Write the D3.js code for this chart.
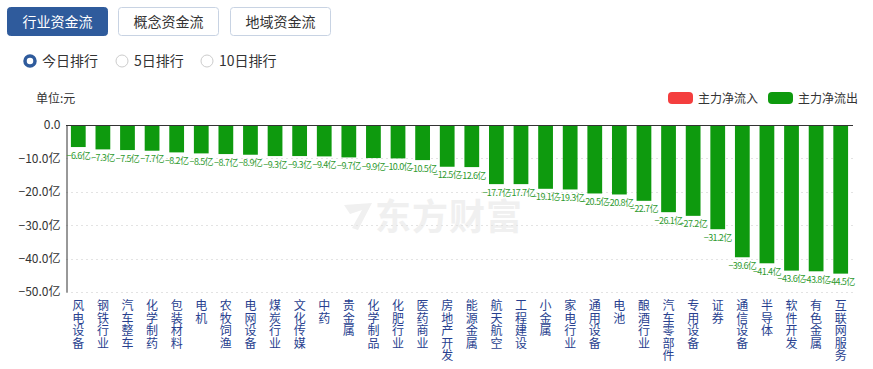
<!DOCTYPE html>
<html><head><meta charset="utf-8">
<script src="https://cdn.jsdelivr.net/npm/d3@7/dist/d3.min.js"></script>
<style>
body{margin:0;background:#fff;}
svg{display:block;font-family:"Noto Sans CJK SC","Noto Sans",sans-serif;}
</style></head><body>
<svg id="c" width="873" height="369"></svg>
<script>
const categories = ["风电设备","钢铁行业","汽车整车","化学制药","包装材料","电机","农牧饲渔","电网设备","煤炭行业","文化传媒","中药","贵金属","化学制品","化肥行业","医药商业","房地产开发","能源金属","航天航空","工程建设","小金属","家电行业","通用设备","电池","酿酒行业","汽车零部件","专用设备","证券","通信设备","半导体","软件开发","有色金属","互联网服务"];
const values = [-6.6,-7.3,-7.5,-7.7,-8.2,-8.5,-8.7,-8.9,-9.3,-9.3,-9.4,-9.7,-9.9,-10.0,-10.5,-12.5,-12.6,-17.7,-17.7,-19.1,-19.3,-20.5,-20.8,-22.7,-26.1,-27.2,-31.2,-39.6,-41.4,-43.6,-43.8,-44.5];
const yTicks = [0,-10,-20,-30,-40,-50];
const tabs = ["行业资金流","概念资金流","地域资金流"];
const radios = ["今日排行","5日排行","10日排行"];
const legendItems = ["主力净流入","主力净流出"];

const svg = d3.select("#c");
const L = 66, R = 853, T = 125, B = 292;
const x = d3.scaleBand().domain(categories).range([L, R]).paddingInner(0.4).paddingOuter(0.2);
const y = d3.scaleLinear().domain([0, -50]).range([T, B]);

// tabs
const tabX = [7, 118, 230];
tabs.forEach((t, i) => {
  const g = svg.append("g");
  g.append("rect").attr("x", tabX[i] + 0.5).attr("y", 7.5).attr("width", 100).attr("height", 28).attr("rx", 3)
    .attr("fill", i === 0 ? "#2f5b9c" : "#fff").attr("stroke", i === 0 ? "#2f5b9c" : "#c8d3e3");
  g.append("text").attr("x", tabX[i] + 50.5).attr("y", 26.5).attr("text-anchor", "middle")
    .attr("font-size", 14).attr("fill", i === 0 ? "#fff" : "#333").text(t);
});

// radios
const radioX = [30, 122, 207];
radios.forEach((r, i) => {
  if (i === 0) {
    svg.append("circle").attr("cx", radioX[i]).attr("cy", 61).attr("r", 5).attr("fill", "#fff").attr("stroke", "#2f5b9c").attr("stroke-width", 3.5);
  } else {
    svg.append("circle").attr("cx", radioX[i]).attr("cy", 61).attr("r", 6).attr("fill", "#fff").attr("stroke", "#ccc").attr("stroke-width", 1);
  }
  svg.append("text").attr("x", radioX[i] + 12).attr("y", 66).attr("font-size", 14).attr("fill", "#333").text(r);
});

// unit
svg.append("text").attr("x", 36).attr("y", 103).attr("font-size", 12).attr("fill", "#333").text("单位:元");

// legend
const legX = [668, 768];
const legC = ["#f43e3e", "#0e9a0e"];
legendItems.forEach((t, i) => {
  svg.append("rect").attr("x", legX[i]).attr("y", 92).attr("width", 25).attr("height", 12).attr("rx", 4).attr("fill", legC[i]);
  svg.append("text").attr("x", legX[i] + 30).attr("y", 102.5).attr("font-size", 12).attr("fill", "#333").text(t);
});

// watermark
const wm = svg.append("g").attr("fill", "#f0f0f0");
wm.append("path").attr("d", "M344,205 L372,203 L358,230 L352,228 L362,210 L350,214 Z");
wm.append("text").attr("x", 375).attr("y", 230).attr("font-size", 36).attr("font-weight", "bold").attr("letter-spacing", 1).text("东方财富");

// grid
svg.append("g").selectAll("line").data(yTicks.filter(d => d !== 0)).join("line")
  .attr("x1", L).attr("x2", R).attr("y1", d => Math.round(y(d)) + 0.5).attr("y2", d => Math.round(y(d)) + 0.5)
  .attr("stroke", "#e3e3e3").attr("stroke-dasharray", "2,3");

// y axis
const yAxis = d3.axisLeft(y).tickValues(yTicks).tickSize(0).tickPadding(6)
  .tickFormat(d => d === 0 ? "0.0" : d3.format(".1f")(d) + "亿");
const ya = svg.append("g").attr("transform", `translate(${L + 0.5},0)`).call(yAxis);
ya.select(".domain").attr("stroke", "#333");
ya.selectAll("text").attr("font-size", 12).attr("fill", "#333").attr("font-family", '"Noto Sans CJK SC",sans-serif');

// bars
svg.append("g").selectAll("rect").data(values).join("rect")
  .attr("x", (d, i) => x(categories[i])).attr("width", x.bandwidth())
  .attr("y", d => y(0)).attr("height", d => y(d) - y(0))
  .attr("fill", "#0e9a0e");

// zero line
svg.append("line").attr("x1", L).attr("x2", R).attr("y1", y(0) + 0.5).attr("y2", y(0) + 0.5).attr("stroke", "#333");

// value labels
svg.append("g").selectAll("text").data(values).join("text")
  .attr("x", (d, i) => x(categories[i]) + x.bandwidth() / 2).attr("y", d => y(d) + 11.5)
  .attr("text-anchor", "middle").attr("font-size", 9).attr("fill", "#2e9a2e")
  .attr("letter-spacing", -0.6)
  .text(d => d3.format(".1f")(d) + "亿");

// x labels (vertical, one character per line)
const xl = svg.append("g").selectAll("text").data(categories).join("text")
  .attr("font-size", 12).attr("fill", "#283f8f").attr("text-anchor", "middle");
xl.each(function(c) {
  const t = d3.select(this);
  const cx = x(c) + x.bandwidth() / 2;
  Array.from(c).forEach((ch, k) => {
    t.append("tspan").attr("x", cx).attr("y", 310 + k * 12.5).text(ch);
  });
});
</script>
</body></html>
